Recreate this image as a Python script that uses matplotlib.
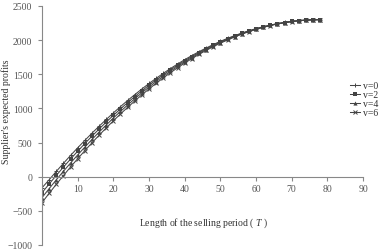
import matplotlib
matplotlib.use("Agg")
import matplotlib.pyplot as plt

plt.rcParams['font.family'] = ['Liberation Serif', 'DejaVu Serif']
plt.rcParams['mathtext.fontset'] = 'custom'
plt.rcParams['mathtext.it'] = 'Liberation Serif:italic'

# 数据
T = list(range(0, 80, 2))
v0 = [-163, -45, 77, 195, 311, 423, 531, 637, 739, 838, 934, 1027, 1116, 1202, 1285,
      1365, 1441, 1514, 1584, 1650, 1714, 1774, 1831, 1884, 1935, 1982, 2026, 2066,
      2103, 2138, 2168, 2196, 2220, 2242, 2259, 2274, 2285, 2294, 2298, 2300]
v2 = [-235, -107, 18, 140, 258, 373, 485, 593, 698, 800, 898, 993, 1085, 1173, 1258,
      1340, 1418, 1493, 1565, 1633, 1698, 1760, 1818, 1873, 1925, 1973, 2018, 2060,
      2098, 2133, 2165, 2193, 2218, 2240, 2258, 2273, 2285, 2293, 2298, 2300]
v4 = [-307, -175, -46, 79, 200, 319, 433, 545, 653, 757, 859, 956, 1050, 1141, 1229,
      1313, 1393, 1470, 1544, 1614, 1681, 1745, 1805, 1861, 1914, 1964, 2010, 2053,
      2093, 2129, 2161, 2190, 2216, 2238, 2257, 2273, 2285, 2293, 2298, 2300]
v6 = [-380, -244, -112, 16, 142, 263, 381, 496, 607, 714, 818, 919, 1015, 1109, 1199,
      1285, 1368, 1447, 1523, 1595, 1664, 1729, 1791, 1849, 1904, 1955, 2002, 2046,
      2087, 2124, 2157, 2187, 2214, 2237, 2256, 2272, 2284, 2293, 2298, 2300]
labels = ["v=0", "v=2", "v=4", "v=6"]
x_ticks = [10, 20, 30, 40, 50, 60, 70, 80, 90]
y_ticks = [-1000, -500, 0, 500, 1000, 1500, 2000, 2500]

fig = plt.figure(figsize=(3.8, 2.53), dpi=100)
ax = fig.add_axes([0.1105, 0.0277, 0.845, 0.9447])

line_c = "#444444"
ax.plot(T, v0, color=line_c, lw=0.75, marker="+", ms=3.5, mew=0.7, label=labels[0])
ax.plot(T, v2, color=line_c, lw=0.75, marker="s", ms=2.6, mew=0, label=labels[1])
ax.plot(T, v4, color=line_c, lw=0.75, marker="^", ms=3.0, mew=0, label=labels[2])
ax.plot(T, v6, color=line_c, lw=0.75, marker="x", ms=2.8, mew=0.7, label=labels[3])

ax.set_xlim(0, 90)
ax.set_ylim(-1000, 2500)
ax.set_xticks(x_ticks)
ax.set_yticks(y_ticks)

# 坐标轴样式
ax.spines["top"].set_visible(False)
ax.spines["right"].set_visible(False)
ax.spines["bottom"].set_position(("data", 0))
for s in ["left", "bottom"]:
    ax.spines[s].set_color("#888888")
    ax.spines[s].set_linewidth(0.8)
ax.tick_params(axis="both", colors="#888888", labelcolor="#555555", labelsize=7,
               length=3, width=0.8, direction="out")
ax.tick_params(axis="y", pad=4)
ax.tick_params(axis="x", pad=2)

fig.text(0.016, 0.557, "Supplier's expected profits", rotation=90, fontsize=7,
         color="#333333", ha="center", va="center")
fig.text(0.535, 0.119, "Length of the selling period ( $\\mathit{T}$ )", fontsize=7,
         color="#333333", ha="center", va="center")

ax.legend(loc="center left", bbox_to_anchor=(0.92, 0.605), bbox_transform=fig.transFigure,
          frameon=False, fontsize=7, handlelength=1.1, handletextpad=0.3,
          labelspacing=0.0, borderpad=0, borderaxespad=0, labelcolor="#333333")

plt.savefig("out.png", dpi=100)
